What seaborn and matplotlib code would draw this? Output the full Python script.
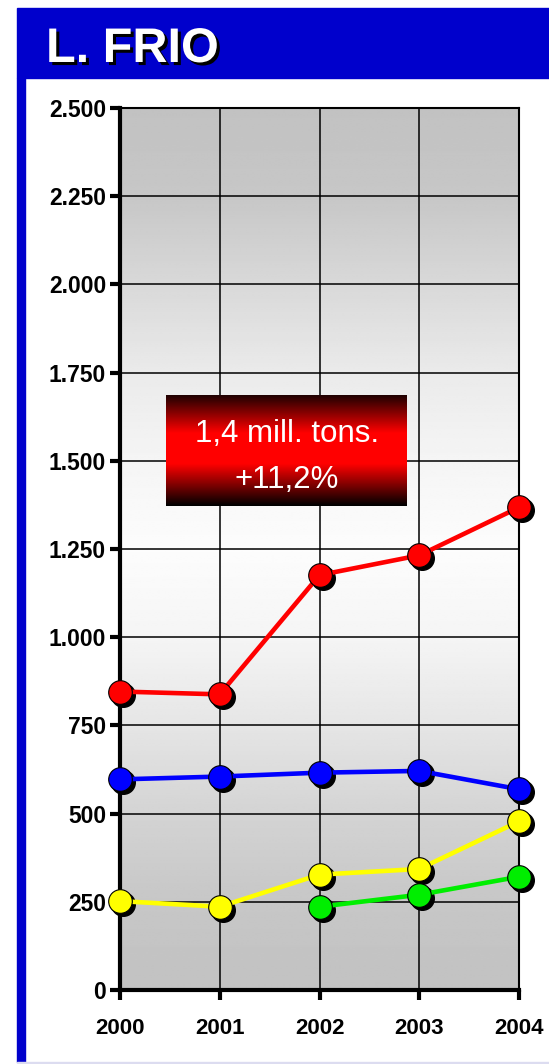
import numpy as np
import matplotlib
matplotlib.use('Agg')
import matplotlib.pyplot as plt
import matplotlib.patheffects as pe
from matplotlib.patches import Rectangle
from matplotlib.colors import LinearSegmentedColormap
from matplotlib.transforms import offset_copy
import seaborn as sns

# datos
years = [2000, 2001, 2002, 2003, 2004]
red_vals = [846, 838, 1176, 1232, 1368]
blue_vals = [597, 605, 616, 621, 569]
yellow_vals = [252, 236, 327, 343, 478]
green_years = [2002, 2003, 2004]
green_vals = [236, 270, 321]
y_ticks = [0, 250, 500, 750, 1000, 1250, 1500, 1750, 2000, 2250, 2500]
title = 'L. FRIO'
note_lines = ['1,4 mill. tons.', '+11,2%']

sns.set_theme(style='white')
plt.rcParams['font.family'] = ['Liberation Sans', 'DejaVu Sans']

W, H = 549, 1064
fig = plt.figure(figsize=(W / 100, H / 100), dpi=100)
fig.patch.set_facecolor('white')


def fbox(x0, y0, x1, y1):
    # pixel box -> figure fraction [left, bottom, width, height]
    return [x0 / W, 1 - y1 / H, (x1 - x0) / W, (y1 - y0) / H]


# marco azul
blue_frame = '#0000CC'
fig.patches.append(Rectangle((17 / W, 1 - 78 / H), (W - 17) / W, 70 / H,
                             transform=fig.transFigure, color=blue_frame, zorder=0))
fig.patches.append(Rectangle((17 / W, 1 - 1062 / H), 8 / W, (1062 - 78) / H,
                             transform=fig.transFigure, color=blue_frame, zorder=0))
fig.patches.append(Rectangle((17 / W, 1 - 1063 / H), (W - 17) / W, 1.5 / H,
                             transform=fig.transFigure, color='#dcdcf0', zorder=0))

# titulo con sombra
fig.text(46 / W, 1 - 62 / H, title, color='white', fontsize=35,
         fontweight='bold', ha='left', va='baseline',
         path_effects=[pe.SimplePatchShadow(offset=(2.2, -2.2), shadow_rgbFace='black', alpha=1),
                       pe.Normal()])

ax = fig.add_axes(fbox(120, 108, 519, 990))

# fondo degradado gris
g_pos = np.array([0, 0.1, 0.2, 0.3, 0.4, 0.5, 0.6, 0.7, 0.8, 0.9, 1.0])
g_lev = np.array([0.76, 0.78, 0.83, 0.90, 0.96, 0.99, 0.96, 0.92, 0.85, 0.78, 0.76])
grad = np.interp(np.linspace(0, 1, 400), g_pos, g_lev)[:, None]
ax.imshow(grad, extent=[years[0], years[-1], y_ticks[0], y_ticks[-1]], aspect='auto',
          cmap='gray', vmin=0, vmax=1, origin='lower', interpolation='bilinear', zorder=0)

series = [
    (years, red_vals, '#FF0000'),
    (years, blue_vals, '#0000FF'),
    (years, yellow_vals, '#FFFF00'),
    (green_years, green_vals, '#00EE00'),
]
shadow_tr = offset_copy(ax.transData, fig=fig, x=3, y=-3, units='dots')
for xs, vals, col in series:
    ax.plot(xs, vals, 'o', ms=17, color='black', transform=shadow_tr,
            clip_on=False, zorder=3)
    sns.lineplot(x=xs, y=vals, color=col, lw=3.3, marker='o', markersize=17,
                 markeredgecolor='black', markeredgewidth=0.8, clip_on=False,
                 zorder=4, ax=ax)

ax.set_xlim(years[0], years[-1])
ax.set_ylim(y_ticks[0], y_ticks[-1])
ax.set_xticks(years)
ax.set_xticklabels([str(y) for y in years], fontweight='bold', fontsize=16)
ax.set_yticks(y_ticks)
ax.set_yticklabels([f'{v:,}'.replace(',', '.') for v in y_ticks],
                   fontweight='bold', fontsize=16.5)
ax.set_xlabel('')
ax.set_ylabel('')
ax.set_axisbelow(True)
ax.grid(True, color='black', linewidth=1.1)
for side, lw in [('left', 3), ('bottom', 3), ('top', 1.5), ('right', 1.5)]:
    ax.spines[side].set_color('black')
    ax.spines[side].set_linewidth(lw)
    ax.spines[side].set_visible(True)
ax.tick_params(axis='y', direction='out', length=7, width=3, pad=3, colors='black', left=True)
ax.tick_params(axis='x', direction='out', length=7, width=3, pad=13, colors='black', bottom=True)

# cuadro rojo con el resumen
box_ax = fig.add_axes(fbox(166, 395, 407, 506))
box_cmap = LinearSegmentedColormap.from_list(
    'box', [(0, '#000000'), (0.38, '#FF0000'), (0.66, '#FF0000'), (1, '#200000')])
box_ax.imshow(np.linspace(0, 1, 200)[:, None], cmap=box_cmap, aspect='auto',
              origin='lower', interpolation='bilinear')
box_ax.axis('off')
fig.text(287 / W, 1 - 442 / H, note_lines[0], color='white', fontsize=22.5,
         ha='center', va='baseline')
fig.text(287 / W, 1 - 488 / H, note_lines[1], color='white', fontsize=22.5,
         ha='center', va='baseline')

fig.savefig('out.png', dpi=100)
